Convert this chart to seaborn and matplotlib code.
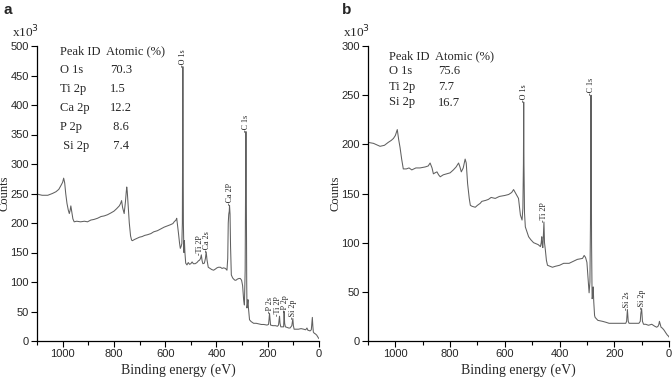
import numpy as np
import pandas as pd
import matplotlib
matplotlib.use("Agg")
import matplotlib.pyplot as plt
import seaborn as sns
from matplotlib.ticker import MultipleLocator

# ---------------- data: panel a (10 values per line) ----------------
energy_a = [1100, 1080, 1058, 1040, 1026, 1015, 1006, 1000, 996, 992,
            988, 983, 978, 974, 971, 968, 964, 960, 955, 945,
            930, 915, 903, 890, 878, 864, 850, 838, 825, 812,
            800, 790, 779, 774, 770, 766, 760, 755, 752, 750,
            748, 745, 740, 735, 731, 728, 720, 710, 700, 690,
            680, 670, 656, 645, 630, 617, 604, 592, 580, 570,
            565, 558, 555, 552, 548, 544, 541, 538, 535, 533,
            531, 529, 527, 525, 523, 520, 515, 510, 505, 500,
            495, 490, 483, 476, 470, 466, 462, 459, 456, 453,
            447, 443, 440, 437, 432, 425, 418, 411, 404, 398,
            392, 385, 378, 372, 365, 359, 356, 354, 352, 350,
            349, 347, 345, 342, 337, 333, 328, 324, 318, 312,
            307, 302, 298, 294, 291, 288, 286, 285, 284, 282,
            281, 279, 277, 275, 271, 265, 255, 245, 235, 225,
            215, 203, 197, 195, 193, 191, 189, 180, 170, 162,
            158, 156, 154, 152, 149, 142, 138, 136, 134, 131,
            125, 118, 113, 106, 104, 102, 100, 97, 90, 80,
            70, 60, 52, 47, 43, 40, 35, 30, 28, 26,
            24, 22, 18, 14, 9, 5, 2, 0]
counts_a = [249, 247, 247, 250, 253, 257, 264, 269, 276, 268,
            250, 233, 222, 216, 221, 229, 218, 207, 202, 203,
            202, 203, 202, 205, 206, 208, 211, 212, 214, 217,
            220, 224, 229, 233, 238, 226, 216, 236, 252, 261,
            254, 235, 200, 178, 171, 170, 172, 174, 176, 177,
            179, 180, 182, 185, 187, 190, 193, 195, 197, 199,
            202, 205, 208, 196, 182, 166, 157, 160, 165, 200,
            465, 200, 150, 170, 150, 132, 129, 133, 130, 131,
            134, 131, 131, 133, 136, 137, 140, 146, 136, 131,
            132, 140, 151, 138, 125, 123, 121, 120, 122, 124,
            125, 125, 123, 124, 123, 120, 140, 200, 215, 220,
            230, 215, 160, 112, 107, 105, 103, 103, 105, 106,
            106, 103, 94, 70, 61, 120, 300, 355, 300, 100,
            56, 62, 70, 55, 36, 33, 30, 30, 29, 28,
            28, 27, 28, 36, 47, 38, 27, 26, 26, 25,
            27, 35, 42, 30, 24, 24, 24, 50, 30, 24,
            23, 22, 22, 26, 32, 38, 26, 20, 20, 20,
            21, 20, 19, 22, 18, 18, 17, 19, 30, 40,
            25, 15, 13, 12, 10, 7, 5, 4]

peak_labels_a = ["-O 1s", "-C 1s", "-Ca 2P", "-Ti 2P", "-Ca 2s", "-P 2s", "-Ti 2P", "-P 2p", "-Si 2p"]
peak_pos_a = [531, 285, 349, 464, 437, 193, 160, 131, 102]
peak_height_a = [465, 355, 230, 146, 151, 47, 42, 50, 38]

table_ids_a = ["O 1s", "Ti 2p", "Ca 2p", "P 2p", " Si 2p"]
table_vals_a = ["70.3", "1.5", "12.2", " 8.6", " 7.4"]

# ---------------- data: panel b (10 values per line) ----------------
energy_b = [1100, 1080, 1056, 1040, 1026, 1015, 1007, 1000, 993, 988,
            983, 977, 971, 960, 950, 940, 925, 910, 891, 880,
            873, 866, 861, 855, 848, 842, 836, 825, 812, 800,
            788, 778, 769, 764, 759, 752, 745, 741, 736, 730,
            726, 720, 708, 700, 690, 684, 670, 660, 650, 635,
            620, 600, 586, 575, 568, 562, 556, 550, 543, 537,
            534, 532, 531, 530, 528, 525, 520, 513, 505, 495,
            487, 478, 470, 467, 465, 463, 461, 459, 457, 455,
            452, 448, 444, 435, 426, 415, 400, 385, 365, 350,
            335, 316, 310, 305, 300, 296, 292, 289, 287, 286,
            285, 284, 283, 281, 279, 277, 275, 272, 270, 260,
            243, 230, 219, 200, 180, 165, 158, 155, 152, 149,
            146, 135, 120, 110, 105, 103, 100, 97, 93, 85,
            75, 63, 52, 45, 40, 37, 35, 32, 29, 24,
            18, 11, 6, 2, 0]
counts_b = [202, 201, 198, 199, 202, 204, 206, 209, 215, 205,
            197, 185, 175, 175, 176, 174, 176, 176, 177, 178,
            181, 176, 170, 171, 172, 169, 167, 169, 170, 171,
            174, 177, 181, 177, 172, 176, 185, 181, 160, 145,
            138, 137, 136, 138, 140, 142, 143, 144, 146, 145,
            147, 148, 149, 151, 154, 151, 148, 145, 128, 123,
            135, 180, 243, 180, 130, 116, 112, 106, 103, 100,
            99, 98, 96, 100, 106, 97, 95, 108, 121, 100,
            93, 82, 77, 76, 75, 76, 77, 79, 79, 81,
            83, 84, 87, 85, 80, 65, 49, 60, 120, 200,
            250, 200, 100, 43, 45, 55, 40, 26, 24, 21,
            20, 19, 18, 18, 18, 18, 18, 20, 32, 20,
            18, 18, 18, 18, 20, 28, 33, 20, 17, 17,
            16, 17, 15, 14, 15, 17, 20, 17, 14, 13,
            11, 8, 6, 5, 4]

peak_labels_b = ["-O 1s", "-C 1s", "-Ti 2P", "-Si 2s", "-Si 2p"]
peak_pos_b = [531, 285, 457, 152, 100]
peak_height_b = [243, 250, 121, 32, 33]

table_ids_b = ["O 1s", "Ti 2p", "Si 2p"]
table_vals_b = ["75.6", "7.7", "16.7"]

# ---------------- styling ----------------
sns.set_theme(style="ticks")
plt.rcParams["font.family"] = ["Liberation Sans", "DejaVu Sans"]
SERIF = ["Liberation Serif", "DejaVu Serif"]
LINE = "#606060"

fig = plt.figure(figsize=(6.72, 3.78), dpi=100)
W, H = 672.0, 378.0


def make_axes(left, right, top, bottom):
    return fig.add_axes([left / W, 1 - bottom / H, (right - left) / W, (bottom - top) / H])


ax_a = make_axes(37, 319, 46, 341)
ax_b = make_axes(368, 669, 46, 341)

df_a = pd.DataFrame({"Binding energy": energy_a, "Counts": counts_a})
df_b = pd.DataFrame({"Binding energy": energy_b, "Counts": counts_b})

sns.lineplot(data=df_a, x="Binding energy", y="Counts", ax=ax_a, color=LINE,
             linewidth=0.75, estimator=None)
sns.lineplot(data=df_b, x="Binding energy", y="Counts", ax=ax_b, color=LINE,
             linewidth=0.75, estimator=None)

for ax, ymax, labels, pos, hts in [(ax_a, 500, peak_labels_a, peak_pos_a, peak_height_a),
                                    (ax_b, 300, peak_labels_b, peak_pos_b, peak_height_b)]:
    ax.set_xlim(1100, 0)
    ax.set_ylim(0, ymax)
    ax.xaxis.set_major_locator(MultipleLocator(200))
    ax.xaxis.set_minor_locator(MultipleLocator(100))
    ax.yaxis.set_major_locator(MultipleLocator(50))
    for s in ["top", "right"]:
        ax.spines[s].set_visible(False)
    for s in ["left", "bottom"]:
        ax.spines[s].set_color("black")
        ax.spines[s].set_linewidth(0.9)
    ax.tick_params(axis="both", which="major", direction="out", length=4, width=0.8,
                   labelsize=8, pad=2, color="black")
    ax.tick_params(axis="x", which="minor", direction="out", length=3, width=0.8, color="black")
    ax.set_xlabel("Binding energy (eV)", family=SERIF, fontsize=10, labelpad=3)
    ax.set_ylabel("Counts", family=SERIF, fontsize=9, labelpad=2)
    ax.set_facecolor("white")
    for lab, x, h in zip(labels, pos, hts):
        ax.text(x, h, lab, rotation=90, ha="center", va="bottom", family=SERIF,
                fontsize=5.8, color="#222222")

ax_a.yaxis.set_label_coords(-0.093, 0.5)
ax_b.yaxis.set_label_coords(-0.087, 0.5)


def draw_table(ids, vals, x1, x2, y_head, dy):
    fig.text(x1 / W, 1 - y_head / H, "Peak ID  Atomic (%)", family=SERIF, fontsize=9,
             va="center", ha="left")
    for i, (k, v) in enumerate(zip(ids, vals)):
        y = y_head + dy * (i + 1)
        fig.text(x1 / W, 1 - y / H, k, family=SERIF, fontsize=9, va="center", ha="left")
        fig.text(x2 / W, 1 - y / H, v, family=SERIF, fontsize=9, va="center", ha="left")


draw_table(table_ids_a, table_vals_a, 60, 110, 51, 19)
draw_table(table_ids_b, table_vals_b, 389, 438, 56, 15.5)

fig.text(12 / W, 1 - 32 / H, r"x10$^{3}$", family=SERIF, fontsize=9.5, va="center", ha="left")
fig.text(343 / W, 1 - 32 / H, r"x10$^{3}$", family=SERIF, fontsize=9.5, va="center", ha="left")
fig.text(4 / W, 1 - 10 / H, "a", fontsize=11, fontweight="bold", va="center", ha="left")
fig.text(342 / W, 1 - 10 / H, "b", fontsize=11, fontweight="bold", va="center", ha="left")

fig.savefig("out.png", dpi=100, facecolor="white")
